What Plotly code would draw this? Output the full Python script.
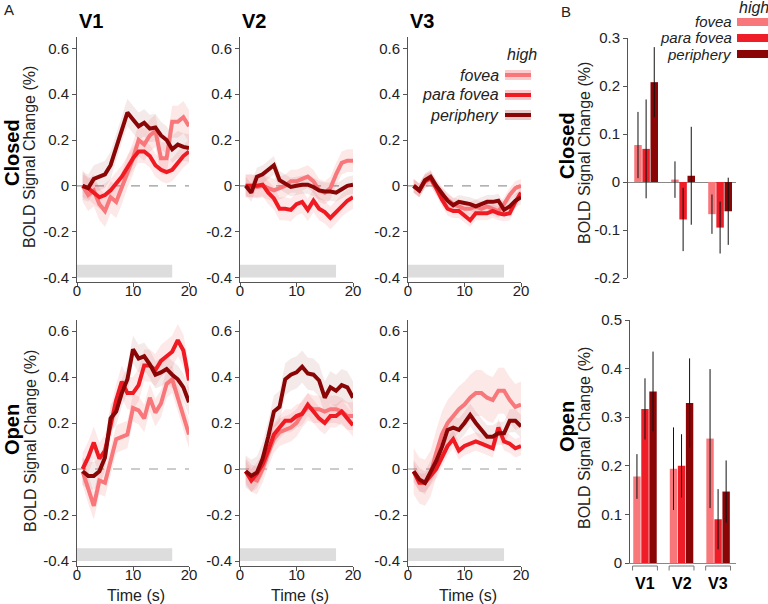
import plotly.graph_objects as go

W, H = 768, 604
T = list(range(1, 21))
AREAS = ["V1", "V2", "V3"]
ECCS = ["fovea", "para fovea", "periphery"]
STIM = [0, 17]

# ---- Panel A: time courses (closed) ----
CL_V1_FOV = [0.0, -0.04, -0.02, -0.08, -0.11, -0.05, -0.07, -0.01, 0.06, 0.12, 0.20, 0.18, 0.22, 0.24, 0.12, 0.12, 0.28, 0.28, 0.30, 0.26]
CL_V1_PARA = [0.0, -0.01, -0.03, -0.05, -0.04, -0.02, 0.01, 0.04, 0.08, 0.12, 0.15, 0.15, 0.13, 0.09, 0.07, 0.06, 0.07, 0.10, 0.13, 0.15]
CL_V1_PER = [0.0, -0.01, 0.03, 0.04, 0.05, 0.09, 0.17, 0.25, 0.32, 0.29, 0.26, 0.275, 0.25, 0.255, 0.22, 0.20, 0.16, 0.18, 0.17, 0.165]
CL_V2_FOV = [0.0, 0.0, -0.005, 0.0, -0.01, -0.02, -0.01, 0.0, 0.02, 0.02, 0.03, 0.04, 0.02, -0.02, -0.03, -0.01, 0.05, 0.10, 0.11, 0.11]
CL_V2_PARA = [0.0, 0.0, 0.0, 0.005, -0.03, -0.055, -0.10, -0.10, -0.105, -0.08, -0.07, -0.105, -0.065, -0.10, -0.115, -0.14, -0.115, -0.085, -0.065, -0.05]
CL_V2_PER = [0.0, -0.03, 0.04, 0.05, 0.07, 0.09, 0.025, 0.01, -0.005, 0.0, 0.005, 0.005, -0.005, -0.02, -0.025, -0.025, -0.03, -0.015, 0.0, 0.005]
CL_V3_FOV = [0.0, -0.02, 0.02, 0.03, -0.01, -0.04, -0.06, -0.08, -0.09, -0.10, -0.10, -0.09, -0.10, -0.09, -0.10, -0.11, -0.08, -0.04, -0.01, 0.0]
CL_V3_PARA = [0.0, -0.02, 0.02, 0.035, -0.01, -0.06, -0.10, -0.11, -0.11, -0.13, -0.15, -0.12, -0.12, -0.12, -0.11, -0.12, -0.125, -0.12, -0.07, -0.03]
CL_V3_PER = [0.0, -0.02, 0.025, 0.04, 0.0, -0.035, -0.065, -0.085, -0.07, -0.075, -0.08, -0.09, -0.08, -0.07, -0.07, -0.065, -0.105, -0.09, -0.065, -0.05]

# ---- Panel A: time courses (open) ----
OP_V1_FOV = [-0.01, -0.09, -0.16, -0.05, -0.06, 0.035, 0.13, 0.14, 0.15, 0.265, 0.255, 0.22, 0.31, 0.245, 0.285, 0.37, 0.39, 0.31, 0.23, 0.15]
OP_V1_PARA = [0.0, 0.05, 0.115, 0.045, 0.08, 0.195, 0.30, 0.38, 0.33, 0.33, 0.365, 0.45, 0.45, 0.43, 0.47, 0.49, 0.51, 0.56, 0.515, 0.385]
OP_V1_PER = [-0.01, -0.03, -0.03, -0.01, 0.05, 0.22, 0.25, 0.33, 0.39, 0.52, 0.48, 0.49, 0.455, 0.41, 0.42, 0.435, 0.41, 0.39, 0.355, 0.29]
OP_V2_FOV = [-0.01, -0.04, -0.05, 0.0, 0.07, 0.13, 0.16, 0.17, 0.18, 0.20, 0.24, 0.27, 0.26, 0.26, 0.25, 0.26, 0.26, 0.25, 0.23, 0.23]
OP_V2_PARA = [-0.01, -0.05, -0.02, 0.02, 0.08, 0.15, 0.18, 0.21, 0.21, 0.23, 0.24, 0.28, 0.25, 0.22, 0.20, 0.23, 0.23, 0.25, 0.22, 0.19]
OP_V2_PER = [-0.01, -0.03, -0.015, 0.045, 0.14, 0.25, 0.27, 0.39, 0.41, 0.42, 0.445, 0.415, 0.41, 0.385, 0.31, 0.355, 0.34, 0.365, 0.355, 0.31]
OP_V3_FOV = [-0.01, -0.05, -0.06, -0.02, 0.07, 0.15, 0.20, 0.23, 0.26, 0.28, 0.31, 0.33, 0.33, 0.31, 0.30, 0.34, 0.34, 0.30, 0.27, 0.28]
OP_V3_PARA = [-0.01, -0.06, -0.06, -0.03, 0.0, 0.05, 0.10, 0.13, 0.08, 0.10, 0.11, 0.12, 0.11, 0.10, 0.09, 0.18, 0.12, 0.11, 0.09, 0.10]
OP_V3_PER = [-0.01, -0.045, -0.06, -0.015, 0.035, 0.095, 0.17, 0.18, 0.17, 0.20, 0.235, 0.20, 0.17, 0.14, 0.14, 0.155, 0.155, 0.21, 0.21, 0.185]

# approximate half-width of the shaded error band, per series (fovea, para, periphery)
CL_BAND = {"V1": [0.07, 0.05, 0.06], "V2": [0.05, 0.05, 0.04], "V3": [0.03, 0.03, 0.03]}
OP_BAND = {"V1": [0.06, 0.07, 0.06], "V2": [0.06, 0.05, 0.07], "V3": [0.10, 0.04, 0.05]}

# ---- Panel B: bar means and errors ----
CL_BAR_FOV = [0.077, 0.005, -0.067]
CL_BAR_PARA = [0.069, -0.078, -0.095]
CL_BAR_PER = [0.208, 0.013, -0.061]
CL_ERR_FOV = [0.069, 0.038, 0.041]
CL_ERR_PARA = [0.103, 0.066, 0.054]
CL_ERR_PER = [0.073, 0.102, 0.070]
OP_BAR_FOV = [0.178, 0.194, 0.256]
OP_BAR_PARA = [0.317, 0.200, 0.090]
OP_BAR_PER = [0.353, 0.329, 0.147]
OP_ERR_FOV = [0.046, 0.085, 0.143]
OP_ERR_PARA = [0.063, 0.065, 0.062]
OP_ERR_PER = [0.082, 0.092, 0.064]

A_TICKS = [-0.4, -0.2, 0, 0.2, 0.4, 0.6]
A_TICKTEXT = ["-0.4", "-0.2", "0", "0.2", "0.4", "0.6"]
B_CL_TICKS = [-0.2, -0.1, 0, 0.1, 0.2, 0.3]
B_CL_TICKTEXT = ["-0.2", "-0.1", "0", "0.1", "0.2", "0.3"]
B_OP_TICKS = [0, 0.1, 0.2, 0.3, 0.4, 0.5]
B_OP_TICKTEXT = ["0", "0.1", "0.2", "0.3", "0.4", "0.5"]

COLORS = ["#F7777B", "#EE1D27", "#8A0606"]
LINE_COLORS = ["#F7777B", "#F01A22", "#8A0606"]
BANDS = ["rgba(245,110,115,0.16)", "rgba(240,40,50,0.10)", "rgba(140,20,20,0.09)"]
LEG_BANDS = ["rgba(245,110,115,0.35)", "rgba(240,40,50,0.25)", "rgba(140,20,20,0.22)"]
FONT = "Liberation Sans, Arial, Helvetica, sans-serif"
AXC = "#555555"
TXT = "#222222"


def px(x):
    return x / W


def py(y):
    return 1 - y / H


closed = {"V1": [CL_V1_FOV, CL_V1_PARA, CL_V1_PER],
          "V2": [CL_V2_FOV, CL_V2_PARA, CL_V2_PER],
          "V3": [CL_V3_FOV, CL_V3_PARA, CL_V3_PER]}
opened = {"V1": [OP_V1_FOV, OP_V1_PARA, OP_V1_PER],
          "V2": [OP_V2_FOV, OP_V2_PARA, OP_V2_PER],
          "V3": [OP_V3_FOV, OP_V3_PARA, OP_V3_PER]}

# pixel domains
A_X = [(77, 189), (240, 353), (408, 521)]
A_Y = [(37, 282), (319.5, 565.6)]
B_X = [(628, 736), (630, 736)]
B_Y = [(38, 278), (320, 563)]

fig = go.Figure()
layout = dict(width=W, height=H, autosize=False,
              margin=dict(l=0, r=0, t=0, b=0, pad=0, autoexpand=False),
              plot_bgcolor="white", paper_bgcolor="white",
              showlegend=False, font=dict(family=FONT, color=TXT),
              bargap=0.34, bargroupgap=0.08, barmode="group")
shapes = []
annotations = []


def ann(text, x, y, size, color=TXT, xanchor="center", yanchor="middle", angle=0, xref="paper"):
    annotations.append(dict(text=text, xref=xref, yref="paper", x=x, y=y,
                            xanchor=xanchor, yanchor=yanchor, textangle=angle,
                            showarrow=False, font=dict(size=size, color=color)))


idx = 0
for r, (cond, bands) in enumerate([(closed, CL_BAND), (opened, OP_BAND)]):
    for c, area in enumerate(AREAS):
        idx += 1
        xa = "x" if idx == 1 else f"x{idx}"
        ya = "y" if idx == 1 else f"y{idx}"
        series = cond[area]
        for k in range(3):
            ys = series[k]
            hw = bands[area][k]
            up = [v + hw for v in ys]
            lo = [v - hw for v in ys]
            fig.add_trace(go.Scatter(x=T + T[::-1], y=up + lo[::-1], fill="toself",
                                     fillcolor=BANDS[k], line=dict(width=0),
                                     mode="lines", hoverinfo="skip", xaxis=xa, yaxis=ya))
        for k in range(3):
            fig.add_trace(go.Scatter(x=T, y=series[k], mode="lines",
                                     line=dict(color=LINE_COLORS[k], width=4),
                                     name=ECCS[k], xaxis=xa, yaxis=ya))
        xd = A_X[c]
        yd = A_Y[r]
        layout["xaxis" if idx == 1 else f"xaxis{idx}"] = dict(
            domain=[px(xd[0]), px(xd[1])], range=[0, 20], anchor=ya, automargin=False,
            tickvals=[0, 10, 20], showline=True, linecolor=AXC, linewidth=1,
            ticks="outside", ticklen=4, tickcolor=AXC, showgrid=False, zeroline=False,
            ticklabelstandoff=-9, tickfont=dict(size=15, color=TXT))
        layout["yaxis" if idx == 1 else f"yaxis{idx}"] = dict(
            domain=[py(yd[1]), py(yd[0])], range=[-0.42, 0.65], anchor=xa, automargin=False,
            tickvals=A_TICKS, ticktext=A_TICKTEXT, showline=True, linecolor=AXC,
            linewidth=1, ticks="outside", ticklen=4, tickcolor=AXC, showgrid=False,
            zeroline=False, tickfont=dict(size=15, color=TXT))
        shapes.append(dict(type="line", xref=xa, yref=ya, x0=0, x1=20, y0=0, y1=0,
                           line=dict(color="#999999", width=1.2, dash="dash"), layer="below"))
        shapes.append(dict(type="rect", xref=xa, yref=ya, x0=STIM[0], x1=STIM[1],
                           y0=-0.4, y1=-0.345, fillcolor="#DDDDDD",
                           line=dict(width=0), layer="below"))
        if r == 1:
            ann("Time (s)", px((xd[0] + xd[1]) / 2 + 3), py(595), 16)
        else:
            ann(f"<b>{area}</b>", px(xd[0] + 14), py(21), 20, color="black")

# ---- Panel B ----
b_sets = [
    ([CL_BAR_FOV, CL_BAR_PARA, CL_BAR_PER], [CL_ERR_FOV, CL_ERR_PARA, CL_ERR_PER],
     [-0.2, 0.3], B_CL_TICKS, B_CL_TICKTEXT, [-0.49, 2.43]),
    ([OP_BAR_FOV, OP_BAR_PARA, OP_BAR_PER], [OP_ERR_FOV, OP_ERR_PARA, OP_ERR_PER],
     [0, 0.5], B_OP_TICKS, B_OP_TICKTEXT, [-0.41, 2.49]),
]
for r, (means, errs, yr, tv, tt, xr) in enumerate(b_sets):
    idx += 1
    xa, ya = f"x{idx}", f"y{idx}"
    for k in range(3):
        fig.add_trace(go.Bar(x=list(range(len(AREAS))), y=means[k],
                             marker=dict(color=COLORS[k], line=dict(width=0)),
                             error_y=dict(type="data", array=errs[k], color="#111111",
                                          thickness=1, width=0),
                             name=ECCS[k], xaxis=xa, yaxis=ya))
    xd, yd = B_X[r], B_Y[r]
    layout[f"xaxis{idx}"] = dict(domain=[px(xd[0]), px(xd[1])], range=xr, anchor=ya,
                                 automargin=False, showticklabels=False, ticks="",
                                 showgrid=False, zeroline=False, showline=(r == 1),
                                 linecolor="#888888")
    layout[f"yaxis{idx}"] = dict(domain=[py(yd[1]), py(yd[0])], range=yr, anchor=xa,
                                 automargin=False, tickvals=tv, ticktext=tt, showline=True,
                                 linecolor=AXC, ticks="outside", ticklen=4, tickcolor=AXC,
                                 showgrid=False, zeroline=(r == 0), zerolinecolor="#888888",
                                 zerolinewidth=1, tickfont=dict(size=15, color=TXT))
    if r == 1:
        for i, area in enumerate(AREAS):
            yb = py(566)
            yt = py(570.5)
            shapes.append(dict(type="line", xref=xa, yref="paper", x0=i - 0.34, x1=i + 0.34,
                               y0=yb, y1=yb, line=dict(color="#777777", width=1)))
            for xe in (i - 0.34, i + 0.34):
                shapes.append(dict(type="line", xref=xa, yref="paper", x0=xe, x1=xe,
                                   y0=yb, y1=yt, line=dict(color="#777777", width=1)))
            ann(f"<b>{area}</b>", i, py(583), 16, color="black", xref=xa)

# ---- Row labels ----
for (xc, yc, text, size, bold) in [
    (12, 153, "Closed", 20, True), (30, 157, "BOLD Signal Change (%)", 16, False),
    (12, 430, "Open", 20, True), (30, 441, "BOLD Signal Change (%)", 16, False),
    (567, 146, "Closed", 20, True), (584, 153, "BOLD Signal Change (%)", 16, False),
    (567, 427, "Open", 20, True), (584, 438, "BOLD Signal Change (%)", 16, False),
]:
    ann(f"<b>{text}</b>" if bold else text, px(xc), py(yc), size,
        color="black" if bold else TXT, angle=-90)

ann("A", px(9), py(9), 15)
ann("B", px(566), py(12), 15)

# ---- Legend A (manual) ----
ann("<i>high</i>", px(505), py(55), 16, xanchor="left")
for k, yc in enumerate([75, 95, 115]):
    ann(f"<i>{ECCS[k]}</i>", px(501), py(yc), 16, xanchor="right")
    shapes.append(dict(type="rect", xref="paper", yref="paper", x0=px(505), x1=px(531),
                       y0=py(yc + 5), y1=py(yc - 5), fillcolor=LEG_BANDS[k],
                       line=dict(width=0)))
    shapes.append(dict(type="line", xref="paper", yref="paper", x0=px(505), x1=px(531),
                       y0=py(yc), y1=py(yc), line=dict(color=LINE_COLORS[k], width=4)))

# ---- Legend B (manual) ----
ann("<i>high</i>", px(737), py(8), 16, xanchor="left")
for k, yc in enumerate([22, 38, 54]):
    ann(f"<i>{ECCS[k]}</i>", px(734), py(yc), 15, xanchor="right")
    shapes.append(dict(type="rect", xref="paper", yref="paper", x0=px(737), x1=px(768),
                       y0=py(yc + 4), y1=py(yc - 4), fillcolor=COLORS[k], line=dict(width=0)))

layout["shapes"] = shapes
layout["annotations"] = annotations
fig.update_layout(**layout)
fig.write_html("out.html", config={"displayModeBar": False},
               post_script="document.body.style.margin='0';document.body.style.overflow='hidden';")
